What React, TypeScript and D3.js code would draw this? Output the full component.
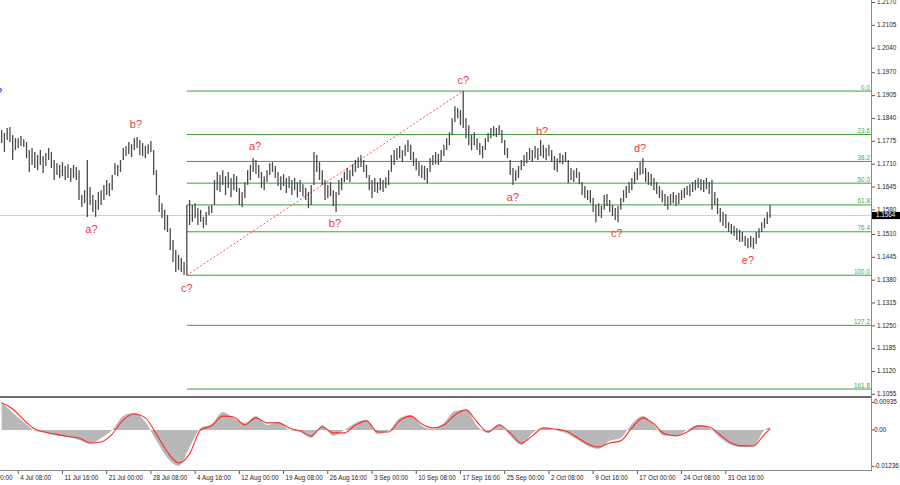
import React from "react";
import * as d3 from "d3";

const W = 900;
const H = 485;

// ---- axis data ----
const priceTicks = [1.217, 1.2105, 1.204, 1.197, 1.1905, 1.184, 1.1775, 1.171, 1.1645, 1.158, 1.151, 1.1445, 1.138, 1.1315, 1.125, 1.1185, 1.112, 1.1055];
const oscTicks = [0.00935, 0.0, -0.01236];
const oscTickLabels = ["0.00935", "0.00", "-0.01236"];
const dateLabels = ["27 Jun 00:00", "4 Jul 08:00", "11 Jul 16:00", "21 Jul 00:00", "28 Jul 08:00", "4 Aug 16:00", "12 Aug 00:00", "19 Aug 08:00", "26 Aug 16:00", "3 Sep 00:00", "10 Sep 08:00", "17 Sep 16:00", "25 Sep 00:00", "2 Oct 08:00", "9 Oct 16:00", "17 Oct 00:00", "24 Oct 08:00", "31 Oct 16:00"];
const barsPerDateLabel = 32; // H4 bars between time labels
const lastH4Index = 576;
const firstBarIndex = 20;
const barStep = 2;
const currentPrice = 1.1564;

// ---- price bars (high / low) ----
const barHigh = [
  1.1807, 1.1799, 1.1813, 1.1816, 1.1793, 1.1784, 1.1784, 1.179, 1.1781, 1.1773,
  1.175, 1.1756, 1.1745, 1.1736, 1.175, 1.1733, 1.1742, 1.1756, 1.1745, 1.1722,
  1.1713, 1.1708, 1.1716, 1.1705, 1.171, 1.1699, 1.1708, 1.1702, 1.1693, 1.1622,
  1.1636, 1.1722, 1.1645, 1.1622, 1.1608, 1.1631, 1.1636, 1.1651, 1.1665, 1.1656,
  1.1679, 1.1713, 1.1708, 1.1722, 1.1756, 1.1762, 1.1773, 1.1767, 1.1784, 1.1787,
  1.1779, 1.177, 1.1762, 1.1767, 1.1776, 1.175, 1.1693, 1.1622, 1.1599, 1.158,
  1.1565, 1.1528, 1.1494, 1.1466, 1.1452, 1.1443, 1.1432, 1.1594, 1.1608, 1.1594,
  1.1599, 1.1585, 1.158, 1.156, 1.1574, 1.1591, 1.1594, 1.1665, 1.1688, 1.1679,
  1.1693, 1.1676, 1.1688, 1.1671, 1.1682, 1.1676, 1.1642, 1.1631, 1.1659, 1.1693,
  1.1708, 1.1727, 1.1722, 1.1708, 1.1688, 1.1676, 1.1693, 1.1713, 1.1716, 1.1705,
  1.1688, 1.1676, 1.1682, 1.1671, 1.1676, 1.1665, 1.1671, 1.1659, 1.1665, 1.1653,
  1.1642, 1.1631, 1.1651, 1.1745, 1.1736, 1.1716, 1.1693, 1.1665, 1.1651, 1.1659,
  1.1636, 1.1631, 1.1665, 1.1671, 1.1688, 1.1699, 1.1693, 1.171, 1.1722, 1.173,
  1.1736, 1.1722, 1.1708, 1.1679, 1.1665, 1.1671, 1.1659, 1.1671, 1.1665, 1.1673,
  1.1693, 1.1736, 1.175, 1.1756, 1.1762, 1.175, 1.1765, 1.1779, 1.1765, 1.1745,
  1.1727, 1.1716, 1.1708, 1.1705, 1.1699, 1.1727, 1.1736, 1.1745, 1.1739, 1.175,
  1.1765, 1.1784, 1.1801, 1.1841, 1.1875, 1.187, 1.1864, 1.1918, 1.1841, 1.1821,
  1.1793, 1.1801, 1.1784, 1.177, 1.1762, 1.1784, 1.1799, 1.1813, 1.1818, 1.1813,
  1.1821, 1.1807, 1.1779, 1.1756, 1.1722, 1.1699, 1.1693, 1.1705, 1.1722, 1.1736,
  1.1745, 1.1756, 1.175, 1.1762, 1.1756, 1.1779, 1.1765, 1.1756, 1.1765, 1.175,
  1.1733, 1.1727, 1.1742, 1.1736, 1.1745, 1.1722, 1.1699, 1.1693, 1.1699, 1.1688,
  1.1659, 1.1648, 1.1636, 1.1636, 1.1614, 1.1594, 1.1599, 1.1591, 1.1622, 1.1625,
  1.1608, 1.1594, 1.1585, 1.1591, 1.1614, 1.1636, 1.1648, 1.1659, 1.1671, 1.1688,
  1.1699, 1.1716, 1.1727, 1.1699, 1.1688, 1.1682, 1.1671, 1.1659, 1.1648, 1.1636,
  1.1625, 1.1619, 1.1625, 1.1631, 1.1622, 1.1628, 1.1636, 1.1642, 1.1648, 1.1653,
  1.1659, 1.1665, 1.1671, 1.1668, 1.1665, 1.1671, 1.1659, 1.1665, 1.1631, 1.1614,
  1.1585, 1.1574, 1.1568, 1.1545, 1.154, 1.1534, 1.1528, 1.1523, 1.1517, 1.1506,
  1.15, 1.1506, 1.15, 1.1517, 1.1528, 1.1545, 1.1557, 1.1574, 1.1594,
];
const barLow = [
  1.177, 1.1745, 1.1779, 1.1773, 1.1722, 1.175, 1.1756, 1.1762, 1.1759, 1.1727,
  1.1688, 1.1708, 1.1699, 1.1693, 1.1708, 1.1685, 1.1705, 1.1722, 1.1699, 1.1665,
  1.1679, 1.1671, 1.1676, 1.1665, 1.1671, 1.1659, 1.1671, 1.1665, 1.1608, 1.1588,
  1.1599, 1.156, 1.1594, 1.1574, 1.156, 1.158, 1.1594, 1.1608, 1.1622, 1.1619,
  1.1636, 1.1679, 1.1676, 1.1688, 1.1722, 1.1733, 1.1739, 1.173, 1.175, 1.1756,
  1.1736, 1.1733, 1.1727, 1.1739, 1.1745, 1.1679, 1.1622, 1.1574, 1.1557, 1.1523,
  1.1517, 1.1466, 1.1432, 1.1403, 1.1409, 1.1403, 1.1395, 1.1394, 1.1537, 1.1546,
  1.1557, 1.1537, 1.1546, 1.1528, 1.1537, 1.1565, 1.1571, 1.1594, 1.1636, 1.1631,
  1.1651, 1.1622, 1.1642, 1.1616, 1.1636, 1.1631, 1.1594, 1.1588, 1.1614, 1.1651,
  1.1665, 1.1688, 1.1682, 1.1671, 1.1642, 1.1636, 1.1659, 1.1679, 1.1688, 1.1671,
  1.1648, 1.1636, 1.1648, 1.1628, 1.1642, 1.1622, 1.1636, 1.1616, 1.1631, 1.1619,
  1.1608, 1.1585, 1.1594, 1.1651, 1.1688, 1.1665, 1.1651, 1.1608, 1.1614, 1.1619,
  1.1591, 1.1574, 1.1622, 1.1636, 1.1659, 1.1665, 1.1659, 1.1676, 1.1688, 1.1699,
  1.1702, 1.1688, 1.1671, 1.1636, 1.1614, 1.1631, 1.1628, 1.1636, 1.1631, 1.1642,
  1.1651, 1.1688, 1.1708, 1.1722, 1.1727, 1.1716, 1.1733, 1.1745, 1.1722, 1.1705,
  1.1693, 1.1676, 1.1671, 1.1665, 1.1656, 1.1688, 1.1708, 1.171, 1.1708, 1.1716,
  1.1733, 1.175, 1.1764, 1.1793, 1.183, 1.1841, 1.1821, 1.1813, 1.1784, 1.1764,
  1.175, 1.1764, 1.175, 1.1736, 1.1727, 1.175, 1.1773, 1.1784, 1.179, 1.1787,
  1.1793, 1.177, 1.1736, 1.1727, 1.1679, 1.1651, 1.1662, 1.1671, 1.1693, 1.1705,
  1.1713, 1.1722, 1.1716, 1.1727, 1.1722, 1.1733, 1.1727, 1.1722, 1.1733, 1.1716,
  1.1693, 1.1688, 1.1713, 1.171, 1.1716, 1.1656, 1.1665, 1.1659, 1.1671, 1.1653,
  1.1622, 1.1614, 1.1608, 1.1599, 1.1574, 1.1545, 1.1562, 1.1557, 1.158, 1.1591,
  1.1574, 1.1562, 1.1551, 1.1545, 1.158, 1.1602, 1.1614, 1.1628, 1.1636, 1.1653,
  1.1665, 1.1679, 1.1682, 1.1659, 1.1651, 1.1648, 1.1636, 1.1625, 1.1614, 1.1602,
  1.1591, 1.158, 1.1594, 1.1599, 1.1591, 1.1597, 1.1608, 1.1614, 1.1622, 1.1619,
  1.1631, 1.1636, 1.1642, 1.1636, 1.1631, 1.1639, 1.1625, 1.158, 1.1594, 1.1568,
  1.1545, 1.1534, 1.1528, 1.1517, 1.1511, 1.1506, 1.1494, 1.1489, 1.1489, 1.1477,
  1.1471, 1.1474, 1.1469, 1.1483, 1.15, 1.1517, 1.1528, 1.154, 1.1557,
];

// ---- oscillator (histogram + signal), one value every 8 H4 bars ----
const oscStep = 8;
const oscHist = [
  0.0095, 0.0058, 0.0027, -0.0003, -0.001, -0.002, -0.0024, -0.0034, -0.0046, -0.0027,
  0.0, 0.0047, 0.0058, 0.0027, -0.0037, -0.0095, -0.0122, -0.0058, 0.0007, 0.002,
  0.0061, 0.0041, 0.0024, 0.0047, 0.0017, 0.0027, 0.0, -0.0007, -0.0027, 0.0017,
  -0.002, 0.0, 0.0024, 0.0034, -0.0014, -0.0003, 0.0041, 0.0051, 0.0014, 0.0003,
  0.0024, 0.0064, 0.0068, 0.0014, -0.001, 0.002, -0.002, -0.0051, -0.001, 0.0007,
  0.0, -0.001, -0.0031, -0.0054, -0.0064, -0.0037, -0.0027, 0.002, 0.0047, 0.0014,
  -0.002, -0.002, 0.0, 0.0017, 0.0007, -0.0027, -0.0051, -0.0058, -0.0054, 0.0,
  0.001,
];
const oscSignal = [
  0.0092, 0.0071, 0.0034, 0.0003, -0.0008, -0.0015, -0.0022, -0.0027, -0.0044, -0.0041,
  -0.0014, 0.0034, 0.0054, 0.0041, -0.0014, -0.0075, -0.0112, -0.0081, 0.0, 0.0014,
  0.0047, 0.0044, 0.0017, 0.0041, 0.0024, 0.0025, 0.0007, -0.0003, -0.002, 0.001,
  -0.001, -0.001, 0.0017, 0.0031, -0.0007, -0.0007, 0.0031, 0.0047, 0.002, 0.0007,
  0.0017, 0.0051, 0.0068, 0.0027, -0.0007, 0.0017, -0.001, -0.0044, -0.002, 0.0007,
  0.0003, -0.0003, -0.0024, -0.0047, -0.0058, -0.0044, -0.0037, 0.0007, 0.0041, 0.002,
  -0.0014, -0.002, -0.0007, 0.0014, 0.001, -0.0017, -0.0044, -0.0054, -0.0054, -0.0014,
  0.0003,
];

// ---- Fibonacci retracement ----
const fibLevels = [0, 23.6, 38.2, 50, 61.8, 76.4, 100, 127.2, 161.8];
const fibLabels = ["0.0", "23.6", "38.2", "50.0", "61.8", "76.4", "100.0", "127.2", "161.8"];
const fibHigh = 1.1918;
const fibLow = 1.1394;
const fibLowBar = 67;
const fibHighBar = 167;

// ---- wave labels ----
const waveText = ["b?", "a?", "c?", "a?", "b?", "c?", "b?", "a?", "c?", "d?", "e?"];
const waveBar = [48.6, 32.5, 67, 91.7, 120.6, 167, 195.5, 185, 222.6, 231, 270];
const wavePrice = [1.1813, 1.1514, 1.1346, 1.175, 1.1531, 1.1938, 1.1793, 1.1605, 1.1503, 1.1745, 1.1426];

export default function App() {
  const plotRight = 872;
  const mainBottom = 396;
  const oscTop = 398;
  const oscBottom = 470;

  const xH4 = d3.scaleLinear().domain([0, lastH4Index]).range([-26, -26 + lastH4Index * 1.382]);
  const barX = (k: number) => xH4(firstBarIndex + barStep * k);
  const y = d3.scaleLinear().domain([1.1055, 1.217]).range([394.4, 2.5]);
  const yo = d3.scaleLinear().domain([-0.01236, 0.00935]).range([466.4, 402.4]);

  const oscX = (j: number) => xH4(Math.min(firstBarIndex + oscStep * j, lastH4Index));
  const histArea = d3
    .area<number>()
    .x((_, j) => oscX(j))
    .y0(yo(0))
    .y1((d) => yo(d))
    .curve(d3.curveMonotoneX);
  const sigLine = d3
    .line<number>()
    .x((_, j) => oscX(j))
    .y((d) => yo(d))
    .curve(d3.curveMonotoneX);

  const font = "'Liberation Sans', Arial, sans-serif";
  const fibX0 = barX(fibLowBar);
  const fibPrice = (l: number) => fibHigh - ((fibHigh - fibLow) * l) / 100;

  return (
    <svg
      width={W}
      height={H}
      viewBox={`0 0 ${W} ${H}`}
      style={{ position: "fixed", left: 0, top: 0, background: "#ffffff" }}
    >
      <defs>
        <clipPath id="mainClip">
          <rect x={0} y={0} width={plotRight} height={mainBottom} />
        </clipPath>
        <clipPath id="oscClip">
          <rect x={0} y={oscTop} width={plotRight} height={oscBottom - oscTop} />
        </clipPath>
      </defs>
      <rect x={0} y={0} width={W} height={H} fill="#ffffff" />

      {/* main chart */}
      <g clipPath="url(#mainClip)">
        {/* current price line */}
        <line x1={0} x2={plotRight} y1={y(currentPrice)} y2={y(currentPrice)} stroke="#cfcfcf" strokeWidth={1} />
        {/* fib levels */}
        {fibLevels.map((l, i) => (
          <g key={"f" + i}>
            <line x1={fibX0} x2={plotRight} y1={y(fibPrice(l))} y2={y(fibPrice(l))} stroke="#3aa23a" strokeWidth={1} />
            <text x={plotRight - 2} y={y(fibPrice(l)) - 1.5} textAnchor="end" fontFamily={font} fontSize={6.4} fill="#4aa84a">
              {fibLabels[i]}
            </text>
          </g>
        ))}
        {/* fib trend line */}
        <line
          x1={barX(fibLowBar)}
          y1={y(fibLow)}
          x2={barX(fibHighBar)}
          y2={y(fibHigh)}
          stroke="#ff4a4a"
          strokeWidth={1}
          strokeDasharray="2,2"
        />
        {/* bars */}
        {barHigh.map((h, k) => (
          <line key={"b" + k} x1={barX(k)} x2={barX(k)} y1={y(h)} y2={y(barLow[k])} stroke="#4a4a4a" strokeWidth={1.3} />
        ))}
        {/* wave labels */}
        {waveText.map((t, i) => (
          <text key={"w" + i} x={barX(waveBar[i])} y={y(wavePrice[i])} textAnchor="middle" fontFamily={font} fontSize={11} fill="#f23a3a">
            {t}
          </text>
        ))}
        <text x={-1} y={96} textAnchor="middle" fontFamily={font} fontSize={11} fill="#1a1aff">
          ?
        </text>
      </g>

      {/* oscillator */}
      <g clipPath="url(#oscClip)">
        <path d={histArea(oscHist) || ""} fill="#b8b8b8" stroke="none" />
        <path d={sigLine(oscSignal) || ""} fill="none" stroke="#ff2a2a" strokeWidth={1.1} />
      </g>

      {/* frames */}
      <rect x={0} y={mainBottom} width={plotRight} height={2} fill="#6e6e6e" />
      <line x1={0} x2={plotRight} y1={oscBottom + 0.5} y2={oscBottom + 0.5} stroke="#8a8a8a" strokeWidth={1} />
      <line x1={plotRight - 0.5} x2={plotRight - 0.5} y1={0} y2={oscBottom + 1} stroke="#8a8a8a" strokeWidth={1} />

      {/* price axis */}
      {priceTicks.map((p, i) => (
        <g key={"p" + i}>
          <line x1={plotRight} x2={plotRight + 3} y1={y(p)} y2={y(p)} stroke="#555" strokeWidth={1} />
          <text x={plotRight + 5} y={y(p)} dominantBaseline="middle" fontFamily={font} fontSize={6.3} fill="#222">
            {p.toFixed(4)}
          </text>
        </g>
      ))}
      <rect x={plotRight} y={y(currentPrice) - 3.6} width={W - plotRight} height={7.2} fill="#000" />
      <text x={plotRight + 4} y={y(currentPrice) + 0.3} dominantBaseline="middle" fontFamily={font} fontSize={6.3} fill="#fff">
        {currentPrice.toFixed(4)}
      </text>

      {/* osc axis */}
      {oscTicks.map((v, i) => (
        <g key={"o" + i}>
          <line x1={plotRight} x2={plotRight + 2} y1={yo(v)} y2={yo(v)} stroke="#555" strokeWidth={1} />
          <text x={plotRight + 2} y={yo(v)} dominantBaseline="middle" fontFamily={font} fontSize={6.3} fill="#222">
            {oscTickLabels[i]}
          </text>
        </g>
      ))}

      {/* time axis */}
      {dateLabels.map((d, m) => (
        <g key={"d" + m}>
          <line x1={xH4(m * barsPerDateLabel)} x2={xH4(m * barsPerDateLabel)} y1={oscBottom + 1} y2={oscBottom + 4} stroke="#555" strokeWidth={1} />
          <text x={xH4(m * barsPerDateLabel) + 2} y={479.5} fontFamily={font} fontSize={6.3} fill="#222">
            {d}
          </text>
        </g>
      ))}
    </svg>
  );
}
